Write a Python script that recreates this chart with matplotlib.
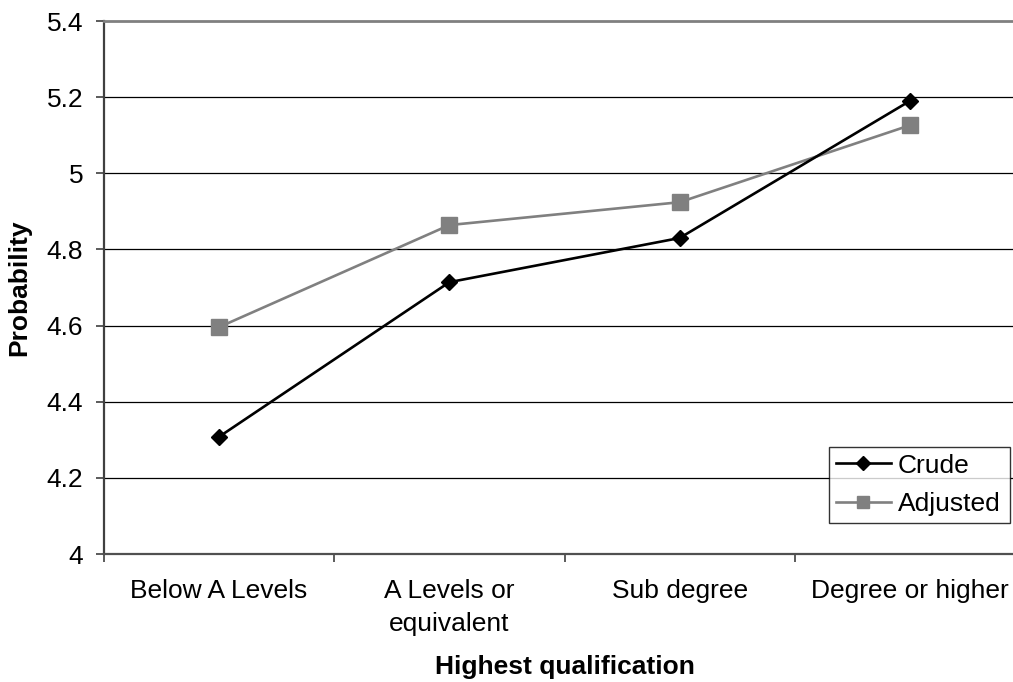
import matplotlib
matplotlib.use("Agg")
import matplotlib.pyplot as plt
import numpy as np

plt.rcParams['font.family'] = ['Liberation Sans', 'DejaVu Sans']

categories = ["Below A Levels", "A Levels or\nequivalent", "Sub degree", "Degree or higher"]
crude = [4.308, 4.714, 4.830, 5.190]
adjusted = [4.596, 4.864, 4.924, 5.126]
yticks = [4, 4.2, 4.4, 4.6, 4.8, 5, 5.2, 5.4]
ytick_labels = ["4", "4.2", "4.4", "4.6", "4.8", "5", "5.2", "5.4"]

FS = 19

fig = plt.figure(figsize=(10.13, 6.82), dpi=100)
ax = fig.add_axes([104/1013, 1 - 554/682, (1025 - 104)/1013, (554 - 21)/682])

x = np.arange(len(categories))
ax.plot(x, crude, color='black', lw=1.9, marker='D', ms=8.5, mfc='black', mec='black',
        label='Crude', zorder=4)
ax.plot(x, adjusted, color='#808080', lw=1.9, marker='s', ms=11, mfc='#808080', mec='#808080',
        label='Adjusted', zorder=3)

ax.set_xlim(-0.5, len(categories) - 0.5)
ax.set_ylim(4, 5.4)
ax.set_yticks(yticks)
ax.set_yticklabels(ytick_labels, fontsize=FS)
ax.set_xticks(x)
ax.set_xticklabels(categories, fontsize=FS, linespacing=1.5)
ax.set_xticks(np.arange(len(categories) + 1) - 0.5, minor=True)
ax.tick_params(axis='x', which='major', length=0, pad=18)
ax.tick_params(axis='x', which='minor', length=6, width=1.2, color='#404040')
ax.tick_params(axis='y', which='major', length=6, width=1.2, color='#404040', pad=9)

for v in yticks[1:-1]:
    ax.axhline(v, color='black', lw=0.9, zorder=1)

ax.spines['top'].set_color('#808080')
ax.spines['top'].set_linewidth(2)
ax.spines['left'].set_color('#404040')
ax.spines['left'].set_linewidth(1.6)
ax.spines['bottom'].set_color('#505050')
ax.spines['bottom'].set_linewidth(1.6)
ax.spines['right'].set_visible(False)

ax.set_ylabel('Probability', fontsize=FS, fontweight='bold', labelpad=11)
ax.set_xlabel('Highest qualification', fontsize=FS, fontweight='bold', labelpad=13)

leg = ax.legend(loc='upper left', bbox_to_anchor=(829/1013, 1 - 447/682, 181/1013, 0.0),
                bbox_transform=fig.transFigure, mode='expand', fontsize=FS, frameon=True,
                fancybox=False, edgecolor='black', borderpad=0.25, handlelength=2.1,
                handletextpad=0.25, labelspacing=0.55, borderaxespad=0, markerscale=0.85)
leg.get_frame().set_linewidth(1.0)

fig.savefig('out.png', dpi=100)
